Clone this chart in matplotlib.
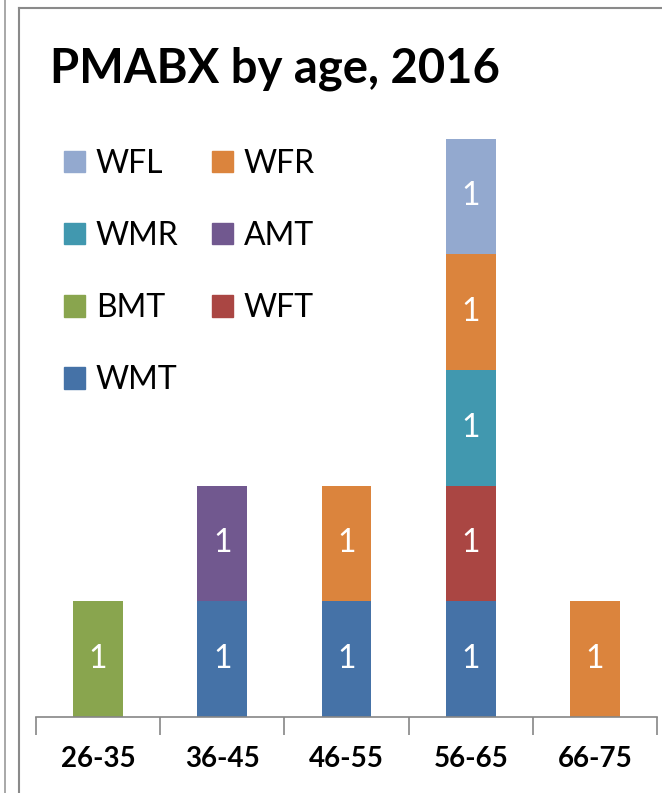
import matplotlib.pyplot as plt
from matplotlib.lines import Line2D
from matplotlib.patches import Patch
import numpy as np

plt.rcParams['font.family'] = ['Lato', 'DejaVu Sans']

ages = ['26-35', '36-45', '46-55', '56-65', '66-75']
# stacking order bottom -> top
series = ['WMT', 'WFT', 'BMT', 'AMT', 'WMR', 'WFR', 'WFL']
WMT = [0, 1, 1, 1, 0]
WFT = [0, 0, 0, 1, 0]
BMT = [1, 0, 0, 0, 0]
AMT = [0, 1, 0, 0, 0]
WMR = [0, 0, 0, 1, 0]
WFR = [0, 0, 1, 1, 1]
WFL = [0, 0, 0, 1, 0]
values = [WMT, WFT, BMT, AMT, WMR, WFR, WFL]
colors = ['#4572A7', '#AA4643', '#89A54E', '#71588F', '#4198AF', '#DB843D', '#93A9CF']

W, H = 662, 793
fig = plt.figure(figsize=(W / 100, H / 100), dpi=100)
ax = fig.add_axes([36 / W, 1 - 717 / H, 621 / W, (717 - 119) / H])

x = np.arange(len(ages))
bottom = np.zeros(len(ages))
handles = {}
for name, vals, col in zip(series, values, colors):
    vals = np.array(vals, dtype=float)
    bars = ax.bar(x, vals, 0.4, bottom=bottom, color=col, edgecolor='none')
    for b, v, b0 in zip(bars, vals, bottom):
        if v > 0:
            ax.text(b.get_x() + b.get_width() / 2, b0 + v / 2, '%d' % v,
                    ha='center', va='center', color='white', fontsize=23)
    handles[name] = Patch(color=col)
    bottom += vals

ax.set_xlim(-0.5, 4.5)
ax.set_ylim(0, 5.17)
ax.set_yticks([])
for s in ['left', 'right', 'top']:
    ax.spines[s].set_visible(False)
ax.spines['bottom'].set_color('#868686')
ax.spines['bottom'].set_linewidth(1.2)
ax.set_xticks(np.arange(-0.5, 5, 1), minor=False)
ax.set_xticklabels([])
ax.tick_params(axis='x', length=13, width=1.2, color='#868686', direction='out')
for i, a in enumerate(ages):
    ax.text(i, -0.36, a, ha='center', va='center', fontsize=20, fontweight='bold')

# legend: column-wise fill to give rows WFL/WFR, WMR/AMT, BMT/WFT, WMT
order = ['WFL', 'WMR', 'BMT', 'WMT', 'WFR', 'AMT', 'WFT']
fig.legend([handles[n] for n in order], order, ncol=2, frameon=False,
           loc='upper left', bbox_to_anchor=(35 / W, 1 - 120 / H),
           fontsize=23, handlelength=0.66, handleheight=0.66,
           handletextpad=0.34, columnspacing=1.05, labelspacing=1.32)

fig.text(50 / W, 1 - 69 / H, 'PMABX by age, 2016', fontsize=34, fontweight='bold',
         ha='left', va='center')

# chart frame lines
fig.add_artist(Line2D([5 / W, 5 / W], [0, 1], color='#9a9a9a', lw=1.2))
fig.add_artist(Line2D([19 / W, 19 / W], [0, 1 - 8 / H], color='#8a8a8a', lw=1.5))
fig.add_artist(Line2D([19 / W, 1], [1 - 8 / H, 1 - 8 / H], color='#8a8a8a', lw=1.5))

fig.savefig('out.png', dpi=100)
